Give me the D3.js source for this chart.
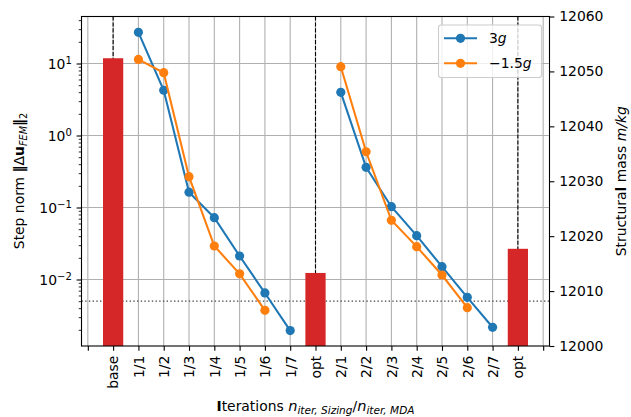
<!DOCTYPE html>
<html><head><meta charset="utf-8">
<script src="https://cdn.jsdelivr.net/npm/d3@7"></script>
<style>body{margin:0;background:#fff;} svg text{font-family:"DejaVu Sans";}</style>
</head><body><svg id="c" width="631" height="417"></svg>
<script>
// ---- data ----
const tickLabels = ["", "base", "1/1", "1/2", "1/3", "1/4", "1/5", "1/6", "1/7", "opt",
                    "2/1", "2/2", "2/3", "2/4", "2/5", "2/6", "2/7", "opt", ""];
const step3g = [null, null, 27.1, 4.25, 0.163, 0.0722, 0.0212, 0.0065, 0.00195, null,
                3.98, 0.361, 0.1026, 0.0406, 0.01507, 0.00566, 0.00217, null, null];
const stepMinus15g = [null, null, 11.4, 7.45, 0.268, 0.0292, 0.0120, 0.00373, null, null,
                      9.03, 0.595, 0.0664, 0.0286, 0.01155, 0.00406, null, null, null];
const massIndex = [1, 9, 17];
const massValues = [12052.4, 12013.3, 12017.7];
const threshold = 0.005;
const leftMajor = [1e-2, 1e-1, 1e0, 1e1];
const leftExp = ["\u22122", "\u22121", "0", "1"];
const rightTicks = [12000, 12010, 12020, 12030, 12040, 12050, 12060];
const seriesNames = [["3", "g"], ["\u22121.5", "g"]];
const seriesColors = ["#1f77b4", "#ff7f0e"];

// ---- layout ----
const L = 81.5, R = 549.5, T = 16.5, B = 346;
const FS = 13.9, TL = 4.86, TP = 4.86;
const svg = d3.select("#c");

const x = d3.scaleLinear().domain([-0.25, 18.25]).range([L, R]);
const y = d3.scaleLog().domain([Math.pow(10, -2.9236), Math.pow(10, 1.6528)]).range([B, T]);
const y2 = d3.scaleLinear().domain([12000, 12060]).range([B, T]);

// grid
const grid = svg.append("g").attr("stroke", "#b0b0b0").attr("stroke-width", 1.1);
grid.selectAll(".gv").data(d3.range(tickLabels.length)).join("line")
  .attr("x1", d => x(d)).attr("x2", d => x(d)).attr("y1", T).attr("y2", B);
grid.selectAll(".gh").data(leftMajor).join("line")
  .attr("x1", L).attr("x2", R).attr("y1", d => y(d)).attr("y2", d => y(d));

// dashed verticals at mass bars
svg.append("g").selectAll("line").data(massIndex).join("line")
  .attr("x1", d => x(d)).attr("x2", d => x(d)).attr("y1", T).attr("y2", B)
  .attr("stroke", "#000").attr("stroke-width", 1.1).attr("stroke-dasharray", "4.1,1.8");

// dotted threshold
svg.append("line").attr("x1", L).attr("x2", R).attr("y1", y(threshold)).attr("y2", y(threshold))
  .attr("stroke", "#444").attr("stroke-width", 1.3).attr("stroke-dasharray", "1.4,2.3");

// bars (mass)
svg.append("g").selectAll("rect").data(massIndex).join("rect")
  .attr("x", d => x(d - 0.4)).attr("width", d => x(d + 0.4) - x(d - 0.4))
  .attr("y", (d, i) => y2(massValues[i])).attr("height", (d, i) => B - y2(massValues[i]))
  .attr("fill", "#d62728");

// lines
[step3g, stepMinus15g].forEach((arr, k) => {
  const pts = arr.map((v, i) => ({i, v}));
  const line = d3.line().defined(d => d.v != null).x(d => x(d.i)).y(d => y(d.v));
  svg.append("path").datum(pts).attr("d", line).attr("fill", "none")
    .attr("stroke", seriesColors[k]).attr("stroke-width", 2.08);
  svg.append("g").selectAll("circle").data(pts.filter(d => d.v != null)).join("circle")
    .attr("cx", d => x(d.i)).attr("cy", d => y(d.v)).attr("r", 4.6).attr("fill", seriesColors[k]);
});

// frame
svg.append("rect").attr("x", L).attr("y", T).attr("width", R - L).attr("height", B - T)
  .attr("fill", "none").attr("stroke", "#000").attr("stroke-width", 1.1);

// axes
function styleAxis(g) {
  g.attr("font-family", "DejaVu Sans").attr("font-size", FS);
  g.select(".domain").remove();
  g.selectAll(".tick line").attr("stroke", "#000").attr("stroke-width", 1.1);
  g.selectAll(".tick text").attr("fill", "#000");
}
const gx = svg.append("g").attr("transform", `translate(0,${B})`)
  .call(d3.axisBottom(x).tickValues(d3.range(tickLabels.length)).tickSize(TL).tickFormat(i => tickLabels[i]));
styleAxis(gx);
gx.selectAll(".tick text").attr("transform", "rotate(-90)").attr("x", -(TL + TP)).attr("y", 0)
  .attr("dy", "0.35em").attr("text-anchor", "end");

const gy = svg.append("g").attr("transform", `translate(${L},0)`)
  .call(d3.axisLeft(y).tickValues(leftMajor).tickSize(TL).tickPadding(TP).tickFormat(""));
styleAxis(gy);
gy.selectAll(".tick text").each(function(d, i) {
  const t = d3.select(this).attr("dy", "0.36em");
  t.append("tspan").text("10");
  t.append("tspan").attr("dy", "-0.5em").attr("font-size", FS * 0.72).text(leftExp[i]);
});
// minor ticks
const minor = [];
for (let e = -3; e <= 1; e++) for (let m = 2; m <= 9; m++) {
  const v = m * Math.pow(10, e);
  if (v >= y.domain()[0] && v <= y.domain()[1]) minor.push(v);
}
const gym = svg.append("g").attr("transform", `translate(${L},0)`)
  .call(d3.axisLeft(y).tickValues(minor).tickSize(2.78).tickFormat(""));
styleAxis(gym);
gym.selectAll(".tick line").attr("stroke-width", 0.83);

const gr = svg.append("g").attr("transform", `translate(${R},0)`)
  .call(d3.axisRight(y2).tickValues(rightTicks).tickSize(TL).tickPadding(TP).tickFormat(d3.format("d")));
styleAxis(gr);

// axis labels
const SUB = FS * 0.76;
const xl = svg.append("text").attr("x", (L + R) / 2).attr("y", 411).attr("text-anchor", "middle")
  .attr("font-size", FS);
xl.append("tspan").attr("font-weight", "bold").text("I");
xl.append("tspan").text("terations ");
xl.append("tspan").attr("font-style", "italic").attr("font-size", FS * 1.05).text("n");
xl.append("tspan").attr("font-style", "italic").attr("font-size", SUB).attr("dy", 3.4).text("iter, Sizing");
xl.append("tspan").attr("dy", -3.4).text("/");
xl.append("tspan").attr("font-style", "italic").attr("font-size", FS * 1.05).text("n");
xl.append("tspan").attr("font-style", "italic").attr("font-size", SUB).attr("dy", 3.4).text("iter, MDA");

const yl = svg.append("text").attr("transform", "translate(23.5,181) rotate(-90)")
  .attr("text-anchor", "middle").attr("font-size", FS);
yl.append("tspan").text("Step norm ");
yl.append("tspan").attr("font-weight", "bold").text("\u2016");
yl.append("tspan").text("\u0394");
yl.append("tspan").attr("font-weight", "bold").text("u");
yl.append("tspan").attr("font-style", "italic").attr("font-size", FS * 0.7).attr("dy", 3.2).text("FEM");
yl.append("tspan").attr("font-weight", "bold").attr("dy", -3.2).text("\u2016");
yl.append("tspan").attr("font-size", FS * 0.7).attr("dy", 3.2).text("2");

const yr = svg.append("text").attr("transform", "translate(626,181.25) rotate(-90)")
  .attr("text-anchor", "middle").attr("font-size", FS);
yr.append("tspan").text("Structura");
yr.append("tspan").attr("font-weight", "bold").text("l");
yr.append("tspan").text(" mass ");
yr.append("tspan").attr("font-style", "italic").text("m/kg");

// legend
const lg = svg.append("g");
lg.append("rect").attr("x", 438.5).attr("y", 25).attr("width", 103).attr("height", 52.5).attr("rx", 2.8)
  .attr("fill", "#fff").attr("fill-opacity", 0.8).attr("stroke", "#cccccc").attr("stroke-width", 1.1);
seriesNames.forEach((nm, k) => {
  const yy = 38.3 + k * 25;
  lg.append("line").attr("x1", 444).attr("x2", 477).attr("y1", yy).attr("y2", yy)
    .attr("stroke", seriesColors[k]).attr("stroke-width", 2.08);
  lg.append("circle").attr("cx", 460.5).attr("cy", yy).attr("r", 4.6).attr("fill", seriesColors[k]);
  const t = lg.append("text").attr("x", 489).attr("y", yy + 5).attr("font-size", FS);
  t.append("tspan").text(nm[0]);
  t.append("tspan").attr("font-style", "italic").text(nm[1]);
});
</script></body></html>
